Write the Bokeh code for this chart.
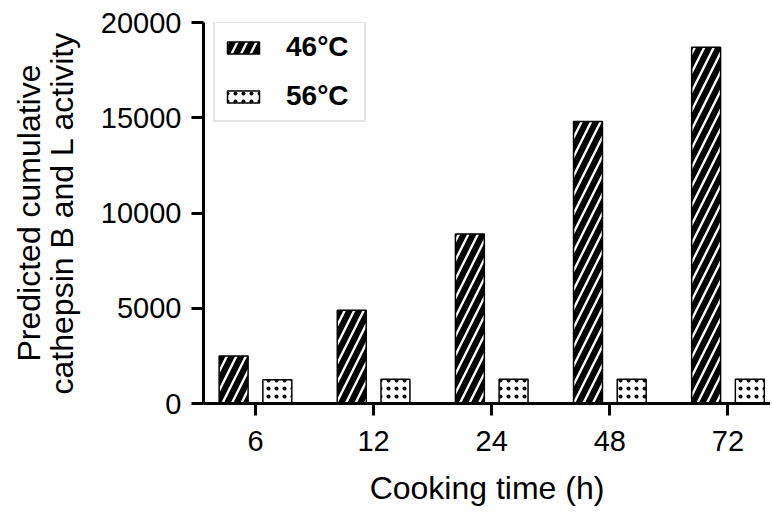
import numpy as np
from bokeh.plotting import figure
from bokeh.models import ColumnDataSource, FixedTicker, Range1d, Legend, LegendItem
from bokeh.transform import dodge
from bokeh.embed import file_html
from bokeh.resources import INLINE

categories = ["6", "12", "24", "48", "72"]
series_names = ["46°C", "56°C"]
values_46 = [2500, 4900, 8900, 14800, 18700]
values_56 = [1250, 1270, 1270, 1270, 1270]
y_ticks = [0, 5000, 10000, 15000, 20000]

x = list(range(len(categories)))
src = ColumnDataSource(dict(x=x, v46=values_46, v56=values_56))

p = figure(width=770, height=508, output_backend="svg", toolbar_location=None,
           x_range=Range1d(-0.44, 4.36), y_range=Range1d(0, 20000),
           min_border_left=203, min_border_right=0, min_border_top=22, min_border_bottom=103)
p.outline_line_color = None
p.grid.visible = False

font = "Liberation Sans"
# 46°C: black bars with white diagonal stripes
b1 = p.vbar(x=dodge("x", -0.185), top="v46", width=0.245, source=src,
            fill_color="black", line_color="black", line_width=1.5,
            hatch_pattern="/", hatch_color="white", hatch_scale=19, hatch_weight=2.4)
# 56°C: white bars with black dots
b2 = p.vbar(x=dodge("x", 0.185), top="v56", width=0.245, source=src,
            fill_color="white", line_color="black", line_width=1.5,
            hatch_pattern=".", hatch_color="black", hatch_scale=8, hatch_weight=0.6)

legend = Legend(items=[LegendItem(label=series_names[0], renderers=[b1]),
                       LegendItem(label=series_names[1], renderers=[b2])],
                location=(10, 281))
legend.label_text_font = font
legend.label_text_font_style = "bold"
legend.label_text_font_size = "28px"
legend.label_text_color = "black"
legend.glyph_width = 40
legend.glyph_height = 15
legend.label_height = 30
legend.label_width = 70
legend.label_standoff = 23
legend.padding = 8
legend.spacing = 17
legend.border_line_color = "#cccccc"
legend.border_line_width = 2
p.add_layout(legend)

p.xaxis.ticker = FixedTicker(ticks=x)
p.xaxis.major_label_overrides = {i: c for i, c in enumerate(categories)}
p.yaxis.ticker = FixedTicker(ticks=y_ticks)
p.yaxis.formatter.use_scientific = False

for ax in (p.xaxis, p.yaxis):
    ax.axis_line_width = 3
    ax.axis_line_color = "black"
    ax.major_tick_line_width = 3
    ax.major_tick_line_color = "black"
    ax.major_tick_out = 12
    ax.major_tick_in = 0
    ax.minor_tick_line_color = None
    ax.major_label_text_font = font
    ax.major_label_text_font_size = "29px"
    ax.major_label_text_color = "black"
    ax.axis_label_text_font = font
    ax.axis_label_text_font_size = "32px"
    ax.axis_label_text_font_style = "normal"
    ax.axis_label_text_color = "black"

p.xaxis.major_label_standoff = 15
p.yaxis.major_label_standoff = 10
p.xaxis.axis_label = "Cooking time (h)"
p.xaxis.axis_label_standoff = 16
p.yaxis.axis_label = "Predicted cumulative\ncathepsin B and L activity"
p.yaxis.axis_label_text_line_height = 0.9
p.yaxis.axis_label_standoff = 18

open("out.html", "w").write(file_html(p, INLINE))
